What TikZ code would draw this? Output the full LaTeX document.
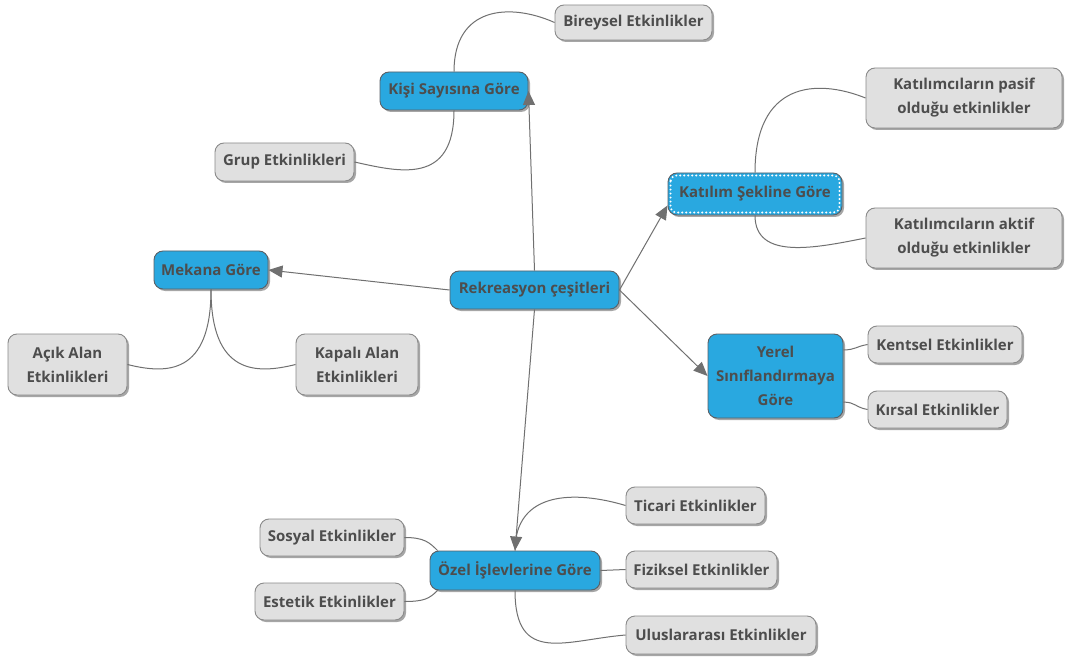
\documentclass[tikz,border=0pt]{standalone}
\usepackage{fontspec}
\setmainfont{Open Sans}
\usetikzlibrary{shadows,arrows.meta}
\definecolor{mblue}{HTML}{29A8E0}
\definecolor{mgray}{HTML}{E0E0E0}
\definecolor{txt}{HTML}{4D4D4D}
\definecolor{lne}{HTML}{707070}
\definecolor{bbord}{HTML}{5A6066}
\definecolor{gbord}{HTML}{8A8A8A}
\tikzset{
  box/.style={rounded corners=9pt, line width=0.9pt, text=txt,
    font=\bfseries\fontsize{15}{24}\selectfont, align=center, inner sep=0pt,
    drop shadow={shadow xshift=2pt, shadow yshift=-2pt, fill=black, opacity=0.35}},
  bbox/.style={box, fill=mblue, draw=bbord},
  gbox/.style={box, fill=mgray, draw=gbord},
  conn/.style={draw=lne, line width=1pt},
  arr/.style={conn, -{Triangle[length=14pt,width=12pt]}}
}
\begin{document}
\begin{tikzpicture}[x=1pt,y=-1pt]
\useasboundingbox[fill=white] (0,0) rectangle (1065,660);
% nodes
\node[gbox, minimum width=157pt, minimum height=35pt] (bir) at (633.5,22.5) {Bireysel Etkinlikler};
\node[bbox, minimum width=148pt, minimum height=38pt] (kisi) at (454,91) {Kişi Sayısına Göre};
\node[gbox, minimum width=139pt, minimum height=38pt] (grup) at (284.5,162) {Grup Etkinlikleri};
\node[gbox, minimum width=196pt, minimum height=60pt] (pasif) at (964,98) {Katılımcıların pasif\\olduğu etkinlikler};
\node[bbox, minimum width=174pt, minimum height=42pt] (kat) at (755,194) {Katılım Şekline Göre};
\node[gbox, minimum width=196pt, minimum height=60pt] (aktif) at (964,238) {Katılımcıların aktif\\olduğu etkinlikler};
\node[bbox, minimum width=114pt, minimum height=38pt] (mek) at (211,270) {Mekana Göre};
\node[bbox, minimum width=169pt, minimum height=38pt] (rek) at (534.5,290) {Rekreasyon çeşitleri};
\node[gbox, minimum width=119pt, minimum height=61pt] (acik) at (67.5,364.5) {Açık Alan\\Etkinlikleri};
\node[gbox, minimum width=122pt, minimum height=61pt] (kap) at (357,364.5) {Kapalı Alan\\Etkinlikleri};
\node[bbox, minimum width=135pt, minimum height=84pt] (yer) at (775.5,376) {Yerel\\Sınıflandırmaya\\Göre};
\node[gbox, minimum width=154pt, minimum height=37pt] (ken) at (945,344.5) {Kentsel Etkinlikler};
\node[gbox, minimum width=139pt, minimum height=37pt] (kir) at (937.5,409.5) {Kırsal Etkinlikler};
\node[gbox, minimum width=139pt, minimum height=37pt] (tic) at (695.5,505.5) {Ticari Etkinlikler};
\node[gbox, minimum width=144pt, minimum height=37pt] (sos) at (332,537.5) {Sosyal Etkinlikler};
\node[bbox, minimum width=170pt, minimum height=39pt] (oze) at (515,570.5) {Özel İşlevlerine Göre};
\node[gbox, minimum width=151pt, minimum height=37pt] (fiz) at (701.5,569.5) {Fiziksel Etkinlikler};
\node[gbox, minimum width=149pt, minimum height=37pt] (est) at (329.5,601.5) {Estetik Etkinlikler};
\node[gbox, minimum width=190pt, minimum height=38pt] (ulu) at (721,635) {Uluslararası Etkinlikler};
% dotted inner border
\draw[white, line width=2.2pt, dash pattern=on 0pt off 4pt, rounded corners=6pt, line cap=round]
  ([shift={(3pt,-3pt)}]kat.north west) rectangle ([shift={(-3pt,3pt)}]kat.south east);
% arrows
\draw[arr] (rek.north) -- (kisi.east);
\draw[arr] (rek.east) -- ([yshift=10pt]kat.south west);
\draw[arr] (rek.west) -- (mek.east);
\draw[arr] (rek.east) -- (yer.west);
\draw[arr] (rek.south) -- (oze.north);
% curves
\draw[conn] (kisi.north) .. controls +(0,-65) and +(-45,-20) .. (bir.west);
\draw[conn] (kisi.south) .. controls +(0,75) and +(45,10) .. (grup.east);
\draw[conn] (kat.north) .. controls +(0,-90) and +(-50,-20) .. (pasif.west);
\draw[conn] (kat.south) .. controls +(0,45) and +(-50,10) .. (aktif.west);
\draw[conn] (mek.south) .. controls +(0,85) and +(40,10) .. (acik.east);
\draw[conn] (mek.south) .. controls +(0,85) and +(-40,10) .. (kap.west);
\draw[conn] (yer.21) .. controls +(12,0) and +(-12,2) .. (ken.west);
\draw[conn] (yer.-21) .. controls +(12,0) and +(-12,-2) .. (kir.west);
\draw[conn] (oze.north) .. controls +(0,-60) and +(-50,-15) .. (tic.west);
\draw[conn] (sos.east) .. controls +(20,0) and +(-8,-8) .. ([xshift=8pt]oze.north west);
\draw[conn] (est.east) .. controls +(20,0) and +(-8,8) .. ([xshift=8pt]oze.south west);
\draw[conn] (oze.east) -- (fiz.west);
\draw[conn] (oze.south) .. controls +(0,75) and +(-60,5) .. (ulu.west);
\end{tikzpicture}
\end{document}
